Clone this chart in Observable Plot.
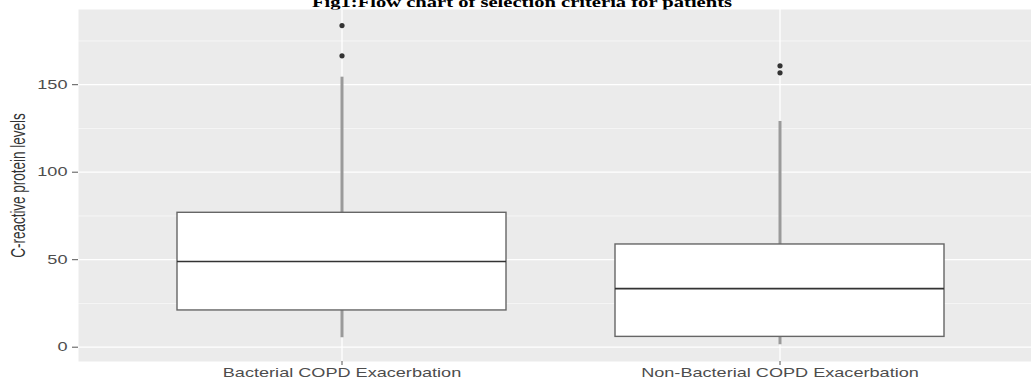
<!DOCTYPE html>
<html>
<head>
<meta charset="utf-8">
<script src="https://cdn.jsdelivr.net/npm/d3@7"></script>
<script src="https://cdn.jsdelivr.net/npm/@observablehq/plot@0.6"></script>
<style>
  html, body { margin: 0; padding: 0; background: #fff; overflow: hidden; }
  #wrap { position: relative; width: 1031px; height: 382px; overflow: hidden; }
  #title {
    position: absolute; left: 522px; top: -4.9px;
    white-space: nowrap;
    font: bold 14.2px "Liberation Serif", "Times New Roman", serif;
    line-height: 14.2px; color: #000;
    transform: translateX(-50%) scaleX(1.45); transform-origin: 50% 50%;
    z-index: 0;
  }
  #chart { position: absolute; left: 0; top: 0; z-index: 1; }
</style>
</head>
<body>
<div id="wrap">
  <div id="title"></div>
  <div id="chart"></div>
</div>
<script>
// ---- data ----
const titleText = "Fig1:Flow chart of selection criteria for patients";
const yLabel = "C-reactive protein levels";
const categories = ["Bacterial COPD Exacerbation", "Non-Bacterial COPD Exacerbation"];
const q1 = [21.0, 5.9];
const medians = [49.0, 33.5];
const q3 = [76.8, 58.7];
const whiskerLow = [5.4, 1.4];
const whiskerHigh = [154.3, 129.0];
const outlierGroup = [0, 0, 1, 1];
const outlierValues = [183.8, 166.5, 160.8, 156.8];
const yTicks = [0, 50, 100, 150];
const yMinorTicks = [25, 75, 125, 175];

// ---- tables built from the arrays ----
const boxes = categories.map((c, i) => ({
  cat: c, q1: q1[i], med: medians[i], q3: q3[i], lo: whiskerLow[i], hi: whiskerHigh[i]
}));
const outliers = outlierValues.map((v, i) => ({ cat: categories[outlierGroup[i]], v }));

document.getElementById("title").textContent = titleText;

const chart = Plot.plot({
  width: 1031,
  height: 382,
  marginTop: 9,
  marginBottom: 21,
  marginLeft: 78,
  marginRight: 0,
  style: { background: "transparent", fontFamily: "'Liberation Sans', Arial, sans-serif", fontSize: "12.5px", color: "#4d4d4d" },
  x: { type: "band", domain: categories, range: [78, 1042], paddingInner: 0.25, paddingOuter: 0.225, align: 0.5, label: null },
  y: { domain: [-8.17, 192.97], label: null },
  marks: [
    Plot.frame({ fill: "#ebebeb", stroke: "none" }),
    Plot.ruleY(yMinorTicks, { stroke: "#fafafa", strokeWidth: 0.7 }),
    Plot.ruleY(yTicks, { stroke: "#ffffff", strokeWidth: 1.3 }),
    Plot.ruleX(categories, { stroke: "#ffffff", strokeWidth: 1.3 }),
    Plot.ruleX(boxes, { x: "cat", y1: "lo", y2: "q1", stroke: "#9a9a9a", strokeWidth: 3 }),
    Plot.ruleX(boxes, { x: "cat", y1: "q3", y2: "hi", stroke: "#9a9a9a", strokeWidth: 3 }),
    Plot.barY(boxes, { x: "cat", y1: "q1", y2: "q3", fill: "#ffffff", stroke: "#666", strokeWidth: 1.4 }),
    Plot.tickY(boxes, { x: "cat", y: "med", stroke: "#333", strokeWidth: 1.6 }),
    Plot.dot(outliers, { x: "cat", y: "v", r: 2.6, fill: "#333", stroke: "none" }),
    Plot.axisY(yTicks, { tickSize: 6, tickPadding: 5, stroke: "#555", fill: "#4d4d4d", label: null }),
    Plot.axisX({ tickSize: 4, tickPadding: 3, stroke: "#555", fill: "#4d4d4d", label: null }),
    Plot.text([yLabel], { frameAnchor: "left", rotate: -90, dx: -60, textAnchor: "middle", fill: "#333", fontSize: 13.5 })
  ]
});

// emulate the horizontal stretch of the reference's text
function stretchText(el, sx, sy) {
  const t = el.getAttribute("transform") || "";
  el.setAttribute("transform", `${t} scale(${sx},${sy})`);
}
chart.querySelectorAll("text").forEach(el => {
  if (el.textContent === yLabel) stretchText(el, 1, 1.45);  // rotated: local y is screen x
  else stretchText(el, 1.45, 1);
});

document.getElementById("chart").appendChild(chart);
</script>
</body>
</html>
